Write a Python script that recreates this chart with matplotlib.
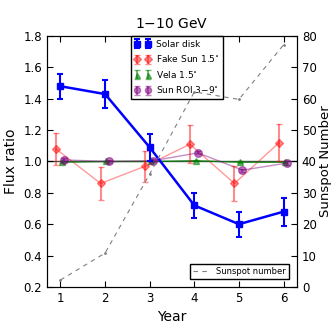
import matplotlib
matplotlib.use("Agg")
from matplotlib import pyplot as plt

plt.rcParams['xtick.direction'] = 'in'
plt.rcParams['ytick.direction'] = 'in'
plt.rcParams['xtick.major.size'] = 4
plt.rcParams['ytick.major.size'] = 4
plt.rcParams['font.size'] = 9

years = [1, 2, 3, 4, 5, 6]

# solar disk flux ratio
solar = [1.48, 1.43, 1.09, 0.72, 0.60, 0.68]
solar_err = [0.08, 0.09, 0.085, 0.08, 0.08, 0.09]

# fake sun 1.5 deg
fake = [1.08, 0.86, 0.97, 1.11, 0.86, 1.12]
fake_err = [0.10, 0.105, 0.10, 0.12, 0.11, 0.12]

# vela 1.5 deg
vela = [0.995, 1.0, 1.0, 1.005, 0.995, 0.995]
vela_err = [0.005, 0.005, 0.005, 0.005, 0.005, 0.005]

# sun roi 3-9 deg
roi = [1.01, 1.0, 1.005, 1.055, 0.945, 0.99]
roi_err = [0.01, 0.01, 0.01, 0.01, 0.01, 0.01]

sunspot = [2.2, 10.8, 36.0, 62.2, 59.8, 77.2]

fig = plt.figure(figsize=(3.34, 3.34), dpi=100)
ax = fig.add_axes([0.141, 0.141, 0.748, 0.751])

ax.axhline(1.0, color='0.3', lw=1, zorder=1)

fake_x = [x - 0.1 for x in years]
vela_x = [x + 0.03 for x in years]
roi_x = [x + 0.08 for x in years]

# connecting lines (kept out of the legend)
ax.plot(fake_x, fake, color='red', lw=1, alpha=0.4)
ax.plot(vela_x, vela, color='green', lw=1, alpha=0.8)
ax.plot(roi_x, roi, color='purple', lw=1, alpha=0.45)
ax.plot(years, solar, color='blue', lw=1.8, zorder=5)

ax.errorbar(fake_x, fake, yerr=fake_err, fmt='D', color='red', markersize=4.5,
            alpha=0.45, capsize=2.5, label='Fake Sun 1.5$^{\\circ}$')
ax.errorbar(vela_x, vela, yerr=vela_err, fmt='^', color='green', markersize=4.5,
            alpha=0.55, capsize=2.5, label='Vela 1.5$^{\\circ}$')
ax.errorbar(roi_x, roi, yerr=roi_err, fmt='o', color='purple', markersize=5.5,
            alpha=0.5, capsize=2.5, label='Sun ROI 3$-$9$^{\\circ}$')
ax.errorbar(years, solar, yerr=solar_err, fmt='s', color='blue', markersize=5,
            elinewidth=1.5, capsize=2.5, capthick=1.5, label='Solar disk', zorder=6)

ax.set_xlim(0.7, 6.3)
ax.set_ylim(0.2, 1.8)
ax.set_xticks(years)
ax.set_yticks([0.2, 0.4, 0.6, 0.8, 1.0, 1.2, 1.4, 1.6, 1.8])
ax.tick_params(top=True, right=False, labelsize=8.5)
ax.set_xlabel('Year', fontsize=10)
ax.set_ylabel('Flux ratio', fontsize=10)
ax.set_title('1$-$10 GeV', fontsize=10)

h, l = ax.get_legend_handles_labels()
order = [3, 0, 1, 2]
ax.legend([h[i] for i in order], [l[i] for i in order], loc='upper center',
          numpoints=2, fontsize=6.5, fancybox=False, borderaxespad=0,
          edgecolor='black', framealpha=1, handlelength=1.8, markerscale=0.8,
          handletextpad=0.5, bbox_to_anchor=(0.52, 1.0))

ax2 = ax.twinx()
ax2.plot(years, sunspot, color='gray', ls='none', marker='.', markersize=2)
ax2.plot(years, sunspot, color='gray', ls='--', lw=0.8, dashes=(4, 4),
         label='Sunspot number')
ax2.set_ylim(0, 80)
ax2.set_yticks([0, 10, 20, 30, 40, 50, 60, 70, 80])
ax2.tick_params(labelsize=8.5)
ax2.set_ylabel('Sunspot Number', fontsize=9.5, labelpad=2)
ax2.legend(loc='lower right', fontsize=6, fancybox=False, edgecolor='black',
           framealpha=1, borderaxespad=0.9)

fig.savefig('out.png', dpi=100)
